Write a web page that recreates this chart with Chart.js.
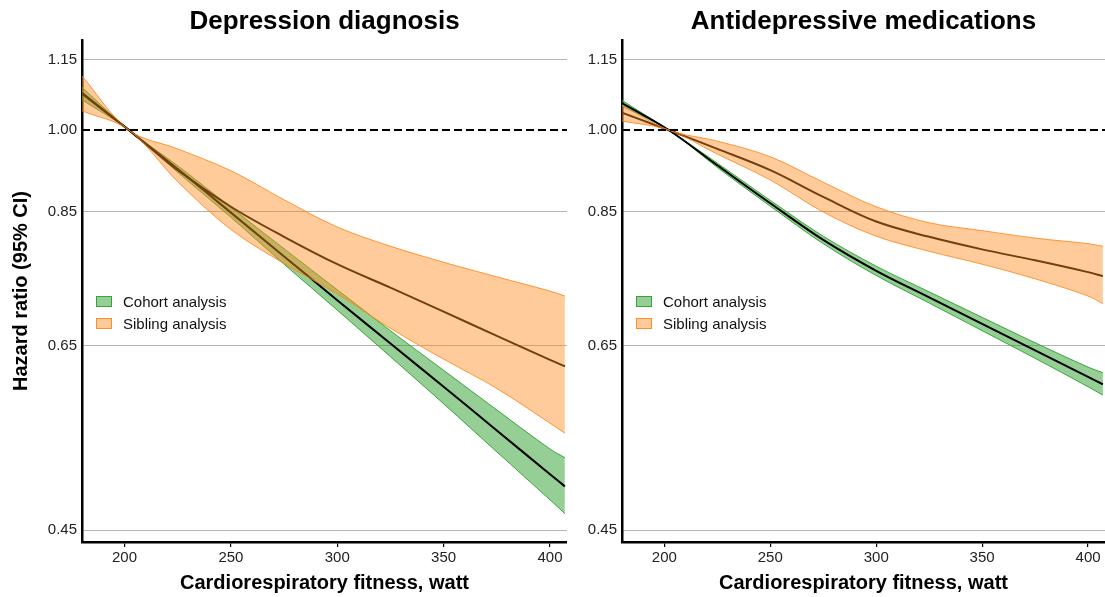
<!DOCTYPE html>
<html>
<head>
<meta charset="utf-8">
<script src="https://cdn.jsdelivr.net/npm/chart.js@4.4.1/dist/chart.umd.min.js"></script>
<style>
  body { margin: 0; background: #fff; width: 1105px; height: 597px; position: relative; overflow: hidden; font-family: 'Liberation Sans', Arial, sans-serif; }
  canvas { position: absolute; top: 0; }
  #leftChart { left: 0; }
  #rightChart { left: 564px; }
  .legend { position: absolute; top: 291px; font-size: 15px; color: #111; }
  .legend div { height: 21.5px; display: flex; align-items: center; white-space: nowrap; }
  .legend .box { box-sizing: border-box; width: 16px; height: 11px; margin-right: 11px; border: 1px solid; }
  .green { background: rgba(44,160,44,0.5); border-color: rgba(44,160,44,0.9) !important; }
  .orange { background: rgba(255,140,30,0.45); border-color: rgba(255,127,14,0.8) !important; }
</style>
</head>
<body>
<canvas id="leftChart" width="567" height="597"></canvas>
<canvas id="rightChart" width="541" height="597"></canvas>

<div class="legend" style="left:96px">
  <div><span class="box green"></span>Cohort analysis</div>
  <div><span class="box orange"></span>Sibling analysis</div>
</div>
<div class="legend" style="left:636px">
  <div><span class="box green"></span>Cohort analysis</div>
  <div><span class="box orange"></span>Sibling analysis</div>
</div>

<script>
const watts = [180, 202, 225, 250, 275, 300, 325, 350, 375, 400, 407];
const xTicks = [200, 250, 300, 350, 400];
const yTicks = [0.45, 0.65, 0.85, 1.00, 1.15];

// Depression diagnosis
const depCohort     = [1.077, 1.0, 0.925, 0.848, 0.777, 0.712, 0.653, 0.599, 0.549, 0.503, 0.491];
const depCohortLow  = [1.062, 1.0, 0.919, 0.840, 0.765, 0.698, 0.636, 0.579, 0.526, 0.478, 0.465];
const depCohortHigh = [1.089, 1.0, 0.931, 0.857, 0.789, 0.727, 0.670, 0.619, 0.572, 0.529, 0.520];
const depSibling     = [1.075, 1.0, 0.923, 0.858, 0.808, 0.765, 0.730, 0.696, 0.663, 0.632, 0.624];
const depSiblingLow  = [1.039, 1.0, 0.902, 0.820, 0.766, 0.721, 0.673, 0.633, 0.597, 0.557, 0.546];
const depSiblingHigh = [1.114, 1.0, 0.963, 0.922, 0.870, 0.824, 0.793, 0.768, 0.746, 0.725, 0.718];

// Antidepressive medications
const medCohort     = [1.055, 1.0, 0.932, 0.864, 0.803, 0.755, 0.716, 0.679, 0.644, 0.611, 0.602];
const medCohortLow  = [1.049, 1.0, 0.928, 0.859, 0.797, 0.748, 0.708, 0.670, 0.634, 0.599, 0.589];
const medCohortHigh = [1.061, 1.0, 0.936, 0.869, 0.809, 0.762, 0.724, 0.688, 0.654, 0.623, 0.616];
const medSibling     = [1.035, 1.0, 0.963, 0.923, 0.875, 0.833, 0.808, 0.788, 0.771, 0.753, 0.747];
const medSiblingLow  = [1.018, 1.0, 0.953, 0.905, 0.849, 0.809, 0.785, 0.765, 0.743, 0.718, 0.707];
const medSiblingHigh = [1.051, 1.0, 0.978, 0.948, 0.901, 0.858, 0.831, 0.818, 0.806, 0.797, 0.793];

Chart.defaults.font.family = "'Liberation Sans', Arial, sans-serif";
Chart.defaults.color = '#222';

function points(values) {
  return watts.map((w, i) => ({ x: w, y: values[i] }));
}

function renderChart(id, title, cohort, cohortLow, cohortHigh, sibling, siblingLow, siblingHigh, showYTitle, yWidth) {
  const ctx = document.getElementById(id);
  const line = { pointRadius: 0, tension: 0.35 };

  new Chart(ctx, {
    type: 'line',
    data: {
      datasets: [
        { ...line, data: points(siblingHigh), fill: '+1', backgroundColor: 'rgba(255,140,30,0.45)',
          borderColor: 'rgba(255,127,14,0.8)', borderWidth: 1, order: 1 },
        { ...line, data: points(siblingLow), fill: false,
          borderColor: 'rgba(255,127,14,0.8)', borderWidth: 1, order: 2 },
        { ...line, data: points(sibling), fill: false, borderColor: '#000', borderWidth: 2, order: 3 },
        { ...line, data: points(cohort), fill: false, borderColor: '#000', borderWidth: 2, order: 4 },
        { ...line, data: points(cohortHigh), fill: '+1', backgroundColor: 'rgba(44,160,44,0.5)',
          borderColor: 'rgba(44,160,44,0.9)', borderWidth: 1, order: 5 },
        { ...line, data: points(cohortLow), fill: false,
          borderColor: 'rgba(44,160,44,0.9)', borderWidth: 1, order: 6 },
        { data: [{ x: 180, y: 1 }, { x: 408, y: 1 }], pointRadius: 0, fill: false,
          borderColor: '#000', borderWidth: 2, borderDash: [8, 4], order: 0 }
      ]
    },
    options: {
      responsive: false,
      animation: false,
      layout: { padding: 0 },
      plugins: {
        legend: { display: false },
        tooltip: { enabled: false },
        title: {
          display: true,
          text: title,
          fullSize: false,
          color: '#000',
          font: { size: 26, weight: 'bold' },
          padding: { top: 6, bottom: 2.8 }
        }
      },
      scales: {
        x: {
          type: 'linear',
          min: 180,
          max: 408,
          afterBuildTicks: s => { s.ticks = xTicks.map(v => ({ value: v })); },
          afterFit: s => { s.height = 55; },
          ticks: { font: { size: 15 }, padding: 2, maxRotation: 0 },
          grid: { drawOnChartArea: false, drawTicks: true, tickLength: 5, color: '#000', lineWidth: 1.2 },
          border: { color: '#000', width: 2.5 },
          title: {
            display: true,
            text: 'Cardiorespiratory fitness, watt',
            color: '#000',
            font: { size: 20, weight: 'bold' },
            padding: { top: 0, bottom: 2 }
          }
        },
        y: {
          type: 'logarithmic',
          min: 0.4394,
          max: 1.1968,
          afterBuildTicks: s => { s.ticks = yTicks.map(v => ({ value: v })); },
          afterFit: s => { s.width = yWidth; },
          ticks: {
            font: { size: 15 },
            padding: 5,
            autoSkip: false,
            callback: v => Number(v).toFixed(2)
          },
          grid: {
            drawTicks: false,
            lineWidth: 1,
            color: c => (c.tick && c.tick.value === 1) ? 'rgba(0,0,0,0)' : '#b3b3b3'
          },
          border: { color: '#000', width: 2.5 },
          title: {
            display: showYTitle,
            text: 'Hazard ratio (95% CI)',
            color: '#000',
            font: { size: 20, weight: 'bold' },
            padding: { top: 9, bottom: 0 }
          }
        }
      }
    }
  });
}

renderChart('leftChart', 'Depression diagnosis',
  depCohort, depCohortLow, depCohortHigh, depSibling, depSiblingLow, depSiblingHigh, true, 82);
renderChart('rightChart', 'Antidepressive medications',
  medCohort, medCohortLow, medCohortHigh, medSibling, medSiblingLow, medSiblingHigh, false, 58);
</script>
</body>
</html>
